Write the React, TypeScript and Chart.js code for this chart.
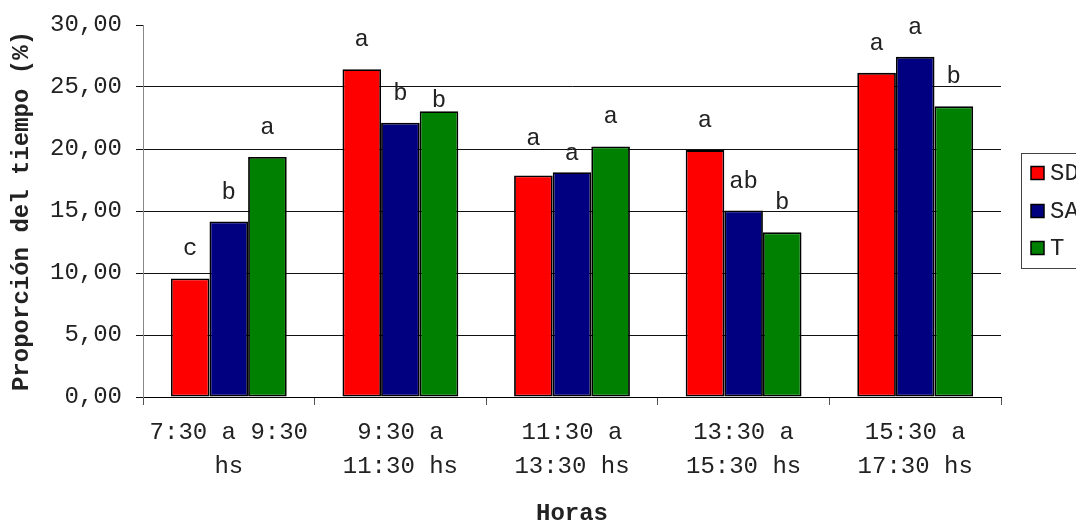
import React, { useEffect, useRef } from "react";
import { Chart, registerables } from "chart.js";

Chart.register(...registerables);

// ---- data ----
const categories: string[][] = [
  ["7:30 a 9:30", "hs"],
  ["9:30 a", "11:30 hs"],
  ["11:30 a", "13:30 hs"],
  ["13:30 a", "15:30 hs"],
  ["15:30 a", "17:30 hs"],
];
const seriesNames = ["SD", "SA", "T"];
const sdValues = [9.56, 26.43, 17.87, 19.91, 26.14];
const saValues = [14.15, 22.12, 18.13, 15.04, 27.43];
const tValues = [19.35, 23.04, 20.21, 13.28, 23.44];
const sdLetters = ["c", "a", "a", "a", "a"];
const saLetters = ["b", "b", "a", "ab", "a"];
const tLetters = ["a", "b", "a", "b", "b"];
const yMin = 0;
const yMax = 30;
const yStep = 5;
const xTitle = "Horas";
const yTitle = "Proporción del tiempo (%)";

// ---- styles ----
const FONT = '"Courier New", "Liberation Mono", monospace';
const colors = ["#FF0000", "#000080", "#008000"];
const letterSets = [sdLetters, saLetters, tLetters];
// manual nudges (px, down positive) of a few letters, as in the original
const letterNudge: Record<string, number> = { "2-1": 18.5, "0-2": -7, "1-2": 10.5 };

const lettersPlugin = {
  id: "letters",
  afterDatasetsDraw(chart: any) {
    const ctx = chart.ctx;
    ctx.save();
    ctx.font = `24px ${FONT}`;
    ctx.fillStyle = "#222";
    ctx.textAlign = "center";
    ctx.textBaseline = "alphabetic";
    chart.data.datasets.forEach((ds: any, di: number) => {
      const meta = chart.getDatasetMeta(di);
      meta.data.forEach((el: any, i: number) => {
        const txt = letterSets[di][i];
        const nudge = letterNudge[`${di}-${i}`] || 0;
        ctx.fillText(txt, el.x, el.y - 23 + nudge);
      });
    });
    ctx.restore();
  },
};

const legendPlugin = {
  id: "boxLegend",
  afterDraw(chart: any) {
    const ctx = chart.ctx;
    const left = 1021.5;
    const top = 153.5;
    const bottom = 268.5;
    ctx.save();
    ctx.strokeStyle = "#444";
    ctx.lineWidth = 1;
    ctx.strokeRect(left, top, 200, bottom - top);
    ctx.font = `24px ${FONT}`;
    ctx.textBaseline = "middle";
    ctx.textAlign = "left";
    const ys = [173, 211, 248];
    chart.data.datasets.forEach((ds: any, i: number) => {
      const y = ys[i];
      ctx.fillStyle = ds.backgroundColor;
      ctx.fillRect(1031, y - 6.5, 13, 13);
      ctx.strokeStyle = "#000";
      ctx.lineWidth = 1.5;
      ctx.strokeRect(1031, y - 6.5, 13, 13);
      ctx.fillStyle = "#222";
      ctx.fillText(ds.label, 1050, y + 1);
    });
    ctx.restore();
  },
};

export default function App() {
  const ref = useRef<HTMLCanvasElement | null>(null);

  useEffect(() => {
    if (!ref.current) return;
    const valueSets = [sdValues, saValues, tValues];
    const chart = new Chart(ref.current, {
      type: "bar",
      data: {
        labels: categories,
        datasets: seriesNames.map((name, i) => ({
          label: name,
          data: valueSets[i],
          backgroundColor: colors[i],
          borderColor: "#000",
          borderWidth: 1.8,
          borderSkipped: false,
          categoryPercentage: 0.675,
          barPercentage: 1,
        })),
      },
      options: {
        animation: false,
        responsive: false,
        maintainAspectRatio: false,
        layout: { padding: { top: 25, right: 75, left: 0, bottom: 0 } },
        plugins: {
          legend: { display: false },
          tooltip: { enabled: false },
        },
        scales: {
          x: {
            offset: true,
            grid: {
              display: true,
              drawOnChartArea: false,
              offset: true,
              tickLength: 8,
              color: "#555",
            },
            border: { display: true, color: "#000", width: 1 },
            ticks: {
              color: "#222",
              padding: 11,
              maxRotation: 0,
              autoSkip: false,
              font: { family: FONT, size: 24, lineHeight: 1.42 },
            },
            title: {
              display: true,
              text: xTitle,
              color: "#222",
              font: { family: FONT, size: 24, weight: "bold", lineHeight: 0.67 },
              padding: { top: 0, bottom: -1 },
            },
            afterFit: (s: any) => {
              s.height = 124;
              s.paddingLeft = 0;
              s.paddingRight = 0;
            },
          },
          y: {
            min: yMin,
            max: yMax,
            grid: {
              color: (c: any) => (c.tick && c.tick.value === yMax ? "rgba(0,0,0,0)" : "#111"),
              tickColor: "#111",
              tickLength: 7,
              lineWidth: 1,
            },
            border: { display: true, color: "#888", width: 1 },
            ticks: {
              stepSize: yStep,
              color: "#222",
              padding: 14,
              font: { family: FONT, size: 24 },
              callback: (v: any) => Number(v).toFixed(2).replace(".", ","),
            },
            title: {
              display: true,
              text: yTitle,
              color: "#222",
              font: { family: FONT, size: 24, weight: "bold", lineHeight: 1 },
              padding: { top: 10, bottom: 0 },
            },
            afterFit: (s: any) => {
              s.width = 143;
              s.paddingTop = 0;
              s.paddingBottom = 0;
            },
          },
        },
      },
      plugins: [lettersPlugin, legendPlugin],
    } as any);
    return () => chart.destroy();
  }, []);

  return (
    <div style={{ position: "fixed", left: 0, top: 0, width: 1076, height: 521, background: "#fff" }}>
      <canvas ref={ref} width={1076} height={521} style={{ width: 1076, height: 521, display: "block" }} />
    </div>
  );
}
